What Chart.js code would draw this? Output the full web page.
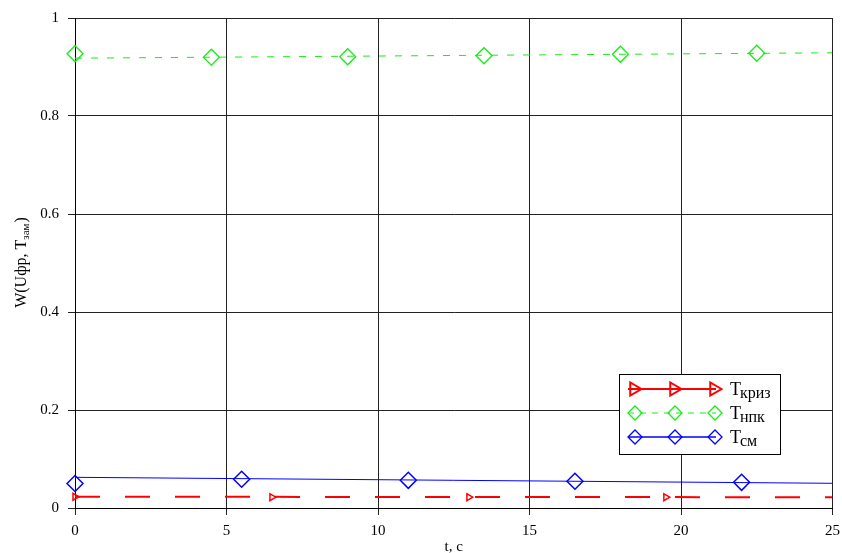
<!DOCTYPE html>
<html>
<head>
<meta charset="utf-8">
<script src="https://cdn.jsdelivr.net/npm/chart.js@4.4.1/dist/chart.umd.min.js"></script>
<style>
  html, body { margin: 0; padding: 0; background: #fff; }
  #c { display: block; }
</style>
</head>
<body>
<canvas id="c" width="842" height="553"></canvas>
<script>
// Axis ticks
const xTicks = [0, 5, 10, 15, 20, 25];
const xTickLabels = ['0', '5', '10', '15', '20', '25'];
const yTicks = [0, 0.2, 0.4, 0.6, 0.8, 1];
const yTickLabels = ['0', '0.2', '0.4', '0.6', '0.8', '1'];

// Ткриз
const krizLineT = [0, 25];
const krizLineW = [0.023, 0.022];
const krizMarkT = [0, 6.5, 13, 19.5];
const krizMarkW = [0.023, 0.022, 0.022, 0.022];

// Тнпк
const npkLineT = [0, 25];
const npkLineW = [0.918, 0.929];
const npkMarkT = [0, 4.5, 9, 13.5, 18, 22.5];
const npkMarkW = [0.927, 0.920, 0.921, 0.923, 0.926, 0.928];

// Тсм
const smLineT = [0, 25];
const smLineW = [0.0626, 0.0504];
const smMarkT = [0, 5.5, 11, 16.5, 22];
const smMarkW = [0.050, 0.0586, 0.0565, 0.0545, 0.0524];

const RED = '#ff0000';
const GREEN = '#14ee14';
const BLUE = '#0000ff';
const SERIF = '"Liberation Serif", "Times New Roman", serif';

const pts = (xs, ys) => xs.map((x, i) => ({ x: x, y: ys[i] }));

// Axis titles with subscripts
const axisTitles = {
  id: 'axisTitles',
  afterDraw(chart) {
    const ctx = chart.ctx;
    const area = chart.chartArea;
    ctx.save();
    ctx.fillStyle = '#000';
    ctx.textBaseline = 'alphabetic';
    // x title
    ctx.font = '15px ' + SERIF;
    ctx.textAlign = 'center';
    ctx.fillText('t, c', (area.left + area.right) / 2, 551);
    // y title, rotated
    ctx.translate(26, (area.top + area.bottom) / 2);
    ctx.rotate(-Math.PI / 2);
    ctx.textAlign = 'left';
    const parts = [
      { t: 'W(Uфр, T', size: 16, dy: 0 },
      { t: 'зам', size: 11, dy: 3 },
      { t: ')', size: 16, dy: 0 }
    ];
    let total = 0;
    parts.forEach(p => { ctx.font = p.size + 'px ' + SERIF; p.w = ctx.measureText(p.t).width; total += p.w; });
    let x = -total / 2;
    parts.forEach(p => {
      ctx.font = p.size + 'px ' + SERIF;
      ctx.fillText(p.t, x, p.dy);
      x += p.w + (p.t === 'зам' ? 1 : 0);
    });
    ctx.restore();
  }
};

function triRight(ctx, x, y, r) {
  ctx.beginPath();
  ctx.moveTo(x + r, y);
  ctx.lineTo(x - r / 2, y - r * 0.866);
  ctx.lineTo(x - r / 2, y + r * 0.866);
  ctx.closePath();
  ctx.stroke();
}
function diamond(ctx, x, y, r) {
  ctx.beginPath();
  ctx.moveTo(x, y - r);
  ctx.lineTo(x + r, y);
  ctx.lineTo(x, y + r);
  ctx.lineTo(x - r, y);
  ctx.closePath();
  ctx.stroke();
}

// Boxed legend with sample line and three markers per series
const boxLegend = {
  id: 'boxLegend',
  afterDraw(chart) {
    const ctx = chart.ctx;
    ctx.save();
    ctx.fillStyle = '#fff';
    ctx.fillRect(619.5, 374.5, 161, 80);
    ctx.strokeStyle = '#000';
    ctx.lineWidth = 1;
    ctx.strokeRect(619.5, 374.5, 161, 80);
    const rows = [
      { y: 389, color: RED, dash: [], lw: 2, mark: 'tri', sub: 'криз' },
      { y: 413, color: GREEN, dash: [6, 6], lw: 1, mark: 'dia', sub: 'нпк' },
      { y: 437, color: BLUE, dash: [], lw: 1.5, mark: 'dia', sub: 'см' }
    ];
    rows.forEach(r => {
      ctx.strokeStyle = r.color;
      ctx.lineWidth = r.lw;
      ctx.setLineDash(r.dash);
      ctx.beginPath();
      ctx.moveTo(628, r.y);
      ctx.lineTo(716, r.y);
      ctx.stroke();
      ctx.setLineDash([]);
      ctx.lineWidth = r.mark === 'tri' ? 2 : 1.3;
      [635, 675, 715].forEach(mx => {
        if (r.mark === 'tri') triRight(ctx, mx - 1, r.y, 7.5);
        else diamond(ctx, mx, r.y, 7);
      });
      ctx.fillStyle = '#000';
      ctx.textAlign = 'left';
      ctx.textBaseline = 'alphabetic';
      ctx.font = '18px ' + SERIF;
      ctx.fillText('Т', 730, r.y + 6);
      const tw = ctx.measureText('Т').width;
      ctx.font = '16px ' + SERIF;
      ctx.fillText(r.sub, 730 + tw - 1, r.y + 9);
    });
    ctx.restore();
  }
};

const tickFont = { family: SERIF, size: 15 };

new Chart(document.getElementById('c'), {
  type: 'scatter',
  data: {
    datasets: [
      { data: pts(krizLineT, krizLineW), showLine: true, borderColor: RED, borderWidth: 2,
        borderDash: [25, 25], pointRadius: 0, order: 6 },
      { data: pts(npkLineT, npkLineW), showLine: true, borderColor: GREEN, borderWidth: 1,
        borderDash: [7, 9], pointRadius: 0, order: 5 },
      { data: pts(smLineT, smLineW), showLine: true, borderColor: BLUE, borderWidth: 1,
        pointRadius: 0, order: 4 },
      { data: pts(krizMarkT, krizMarkW), showLine: false, pointStyle: 'triangle', rotation: 90,
        pointRadius: 4, pointBorderWidth: 1.5, pointBorderColor: RED,
        pointBackgroundColor: 'rgba(0,0,0,0)', clip: false, order: 3 },
      { data: pts(npkMarkT, npkMarkW), showLine: false, pointStyle: 'rectRot',
        pointRadius: 8, pointBorderWidth: 1.3, pointBorderColor: GREEN,
        pointBackgroundColor: 'rgba(0,0,0,0)', clip: false, order: 2 },
      { data: pts(smMarkT, smMarkW), showLine: false, pointStyle: 'rectRot',
        pointRadius: 8, pointBorderWidth: 1.5, pointBorderColor: BLUE,
        pointBackgroundColor: 'rgba(0,0,0,0)', clip: false, order: 1 }
    ]
  },
  options: {
    responsive: false,
    animation: false,
    devicePixelRatio: 1,
    layout: { padding: { left: 0, top: 18, right: 9, bottom: 0 } },
    plugins: { legend: { display: false }, tooltip: { enabled: false } },
    scales: {
      x: {
        type: 'linear', min: 0, max: 25,
        afterBuildTicks: s => { s.ticks = xTicks.map(v => ({ value: v })); },
        afterFit: s => { s.height = 45; s.paddingLeft = 0; s.paddingRight = 0; },
        ticks: { callback: (v, i) => xTickLabels[i], font: tickFont, color: '#000', padding: 7, maxRotation: 0 },
        grid: { color: '#222', lineWidth: 1, tickLength: 7, drawTicks: true },
        border: { color: '#000', width: 1 }
      },
      y: {
        type: 'linear', min: 0, max: 1,
        afterBuildTicks: s => { s.ticks = yTicks.map(v => ({ value: v })); },
        afterFit: s => { s.width = 75; s.paddingTop = 0; s.paddingBottom = 0; },
        ticks: { callback: (v, i) => yTickLabels[i], font: tickFont, color: '#000', padding: 9 },
        grid: { color: '#222', lineWidth: 1, tickLength: 7, drawTicks: true },
        border: { color: '#000', width: 1 }
      }
    }
  },
  plugins: [axisTitles, boxLegend]
});
</script>
</body>
</html>
